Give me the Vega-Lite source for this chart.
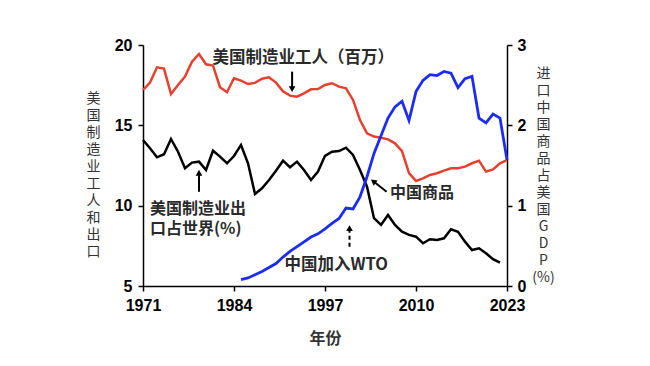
{
  "$schema": "https://vega.github.io/schema/vega-lite/v6.json",
  "width": 364,
  "height": 241,
  "autosize": "none",
  "padding": {"left": 143, "top": 45, "right": 143, "bottom": 80},
  "background": "white",
  "config": {
    "view": {"stroke": null},
    "axis": {
      "grid": false,
      "domainColor": "black",
      "tickColor": "black",
      "domainWidth": 1.5,
      "tickWidth": 1.5,
      "tickSize": 5,
      "labelFont": "Liberation Sans",
      "labelFontWeight": "bold",
      "labelFontSize": 16,
      "labelColor": "black",
      "titleFont": "Noto Sans CJK SC",
      "titleColor": "#333333"
    }
  },
  "datasets": {
    "workers": [
      {"year": 1971, "value": 17.2}, {"year": 1972, "value": 17.66}, {"year": 1973, "value": 18.61}, {"year": 1974, "value": 18.53},
      {"year": 1975, "value": 16.95}, {"year": 1976, "value": 17.51}, {"year": 1977, "value": 18.03}, {"year": 1978, "value": 18.96},
      {"year": 1979, "value": 19.44}, {"year": 1980, "value": 18.8}, {"year": 1981, "value": 18.72}, {"year": 1982, "value": 17.37},
      {"year": 1983, "value": 17.06}, {"year": 1984, "value": 17.93}, {"year": 1985, "value": 17.78}, {"year": 1986, "value": 17.57},
      {"year": 1987, "value": 17.64}, {"year": 1988, "value": 17.9}, {"year": 1989, "value": 17.99}, {"year": 1990, "value": 17.66},
      {"year": 1991, "value": 17.12}, {"year": 1992, "value": 16.85}, {"year": 1993, "value": 16.78}, {"year": 1994, "value": 16.99},
      {"year": 1995, "value": 17.24}, {"year": 1996, "value": 17.26}, {"year": 1997, "value": 17.51}, {"year": 1998, "value": 17.62},
      {"year": 1999, "value": 17.41}, {"year": 2000, "value": 17.3}, {"year": 2001, "value": 16.58}, {"year": 2002, "value": 15.33},
      {"year": 2003, "value": 14.5}, {"year": 2004, "value": 14.3}, {"year": 2005, "value": 14.23}, {"year": 2006, "value": 14.13},
      {"year": 2007, "value": 13.88}, {"year": 2008, "value": 13.4}, {"year": 2009, "value": 12.02}, {"year": 2010, "value": 11.54},
      {"year": 2011, "value": 11.7}, {"year": 2012, "value": 11.91}, {"year": 2013, "value": 12.02}, {"year": 2014, "value": 12.18},
      {"year": 2015, "value": 12.33}, {"year": 2016, "value": 12.33}, {"year": 2017, "value": 12.43}, {"year": 2018, "value": 12.64},
      {"year": 2019, "value": 12.8}, {"year": 2020, "value": 12.12}, {"year": 2021, "value": 12.26}, {"year": 2022, "value": 12.64},
      {"year": 2023, "value": 12.84}
    ],
    "exports": [
      {"year": 1971, "value": 14.09}, {"year": 1972, "value": 13.57}, {"year": 1973, "value": 13.01}, {"year": 1974, "value": 13.2},
      {"year": 1975, "value": 14.15}, {"year": 1976, "value": 13.36}, {"year": 1977, "value": 12.33}, {"year": 1978, "value": 12.68},
      {"year": 1979, "value": 12.74}, {"year": 1980, "value": 12.22}, {"year": 1981, "value": 13.42}, {"year": 1982, "value": 13.05},
      {"year": 1983, "value": 12.64}, {"year": 1984, "value": 13.09}, {"year": 1985, "value": 13.78}, {"year": 1986, "value": 12.64},
      {"year": 1987, "value": 10.73}, {"year": 1988, "value": 11.08}, {"year": 1989, "value": 11.6}, {"year": 1990, "value": 12.18},
      {"year": 1991, "value": 12.8}, {"year": 1992, "value": 12.39}, {"year": 1993, "value": 12.74}, {"year": 1994, "value": 12.22},
      {"year": 1995, "value": 11.6}, {"year": 1996, "value": 12.12}, {"year": 1997, "value": 13.1}, {"year": 1998, "value": 13.36},
      {"year": 1999, "value": 13.4}, {"year": 2000, "value": 13.61}, {"year": 2001, "value": 13.16}, {"year": 2002, "value": 12.22},
      {"year": 2003, "value": 11.18}, {"year": 2004, "value": 9.22}, {"year": 2005, "value": 8.8}, {"year": 2006, "value": 9.42},
      {"year": 2007, "value": 8.8}, {"year": 2008, "value": 8.38}, {"year": 2009, "value": 8.18}, {"year": 2010, "value": 8.07},
      {"year": 2011, "value": 7.66}, {"year": 2012, "value": 7.91}, {"year": 2013, "value": 7.87}, {"year": 2014, "value": 7.97},
      {"year": 2015, "value": 8.53}, {"year": 2016, "value": 8.38}, {"year": 2017, "value": 7.76}, {"year": 2018, "value": 7.24},
      {"year": 2019, "value": 7.35}, {"year": 2020, "value": 7.04}, {"year": 2021, "value": 6.67}, {"year": 2022, "value": 6.45}
    ],
    "imports": [
      {"year": 1985, "share": 0.08}, {"year": 1986, "share": 0.1}, {"year": 1987, "share": 0.14}, {"year": 1988, "share": 0.18},
      {"year": 1989, "share": 0.23}, {"year": 1990, "share": 0.28}, {"year": 1991, "share": 0.36}, {"year": 1992, "share": 0.43},
      {"year": 1993, "share": 0.49}, {"year": 1994, "share": 0.55}, {"year": 1995, "share": 0.61}, {"year": 1996, "share": 0.65},
      {"year": 1997, "share": 0.71}, {"year": 1998, "share": 0.78}, {"year": 1999, "share": 0.84}, {"year": 2000, "share": 0.97},
      {"year": 2001, "share": 0.96}, {"year": 2002, "share": 1.11}, {"year": 2003, "share": 1.36}, {"year": 2004, "share": 1.65},
      {"year": 2005, "share": 1.87}, {"year": 2006, "share": 2.09}, {"year": 2007, "share": 2.23}, {"year": 2008, "share": 2.3},
      {"year": 2009, "share": 2.06}, {"year": 2010, "share": 2.42}, {"year": 2011, "share": 2.56}, {"year": 2012, "share": 2.63},
      {"year": 2013, "share": 2.62}, {"year": 2014, "share": 2.67}, {"year": 2015, "share": 2.65}, {"year": 2016, "share": 2.47},
      {"year": 2017, "share": 2.58}, {"year": 2018, "share": 2.61}, {"year": 2019, "share": 2.09}, {"year": 2020, "share": 2.03},
      {"year": 2021, "share": 2.14}, {"year": 2022, "share": 2.09}, {"year": 2023, "share": 1.57}
    ],
    "labels": [
      {"id": "workers", "year": 1993.9, "value": 19.2, "text": "美国制造业工人（百万）"},
      {"id": "exports", "year": 1972.0, "value": 9.79, "text": "美国制造业出\n口占世界(%)"},
      {"id": "goods", "year": 2006.3, "value": 10.79, "text": "中国商品"},
      {"id": "wto", "year": 1998.6, "value": 6.31, "text": "中国加入WTO"}
    ],
    "arrows": [
      {"id": "workers", "year": 1992.3, "value": 18.34, "year2": 1992.3, "value2": 17.25},
      {"id": "exports", "year": 1979, "value": 10.87, "year2": 1979, "value2": 12.05},
      {"id": "goods", "year": 2005.8, "value": 10.87, "year2": 2003.9, "value2": 11.52},
      {"id": "wto", "year": 2000.5, "value": 7.45, "year2": 2000.5, "value2": 8.6}
    ]
  },
  "encoding": {
    "x": {
      "field": "year",
      "type": "quantitative",
      "scale": {"domain": [1971, 2023], "nice": false, "zero": false},
      "axis": {
        "values": [1971, 1984, 1997, 2010, 2023],
        "format": "d",
        "title": "年份",
        "titleFontSize": 16,
        "titleFontWeight": "bold",
        "titleY": 52,
        "titleBaseline": "middle",
        "labelPadding": 6,
        "labelFlush": false
      }
    }
  },
  "layer": [
    {
      "encoding": {
        "y": {
          "field": "value",
          "type": "quantitative",
          "scale": {"domain": [5, 20], "nice": false, "zero": false},
          "axis": {
            "orient": "left",
            "values": [5, 10, 15, 20],
            "labelPadding": 6,
            "title": ["美", "国", "制", "造", "业", "工", "人", "和", "出", "口"],
            "titleAngle": 0,
            "titleFontSize": 14,
            "titleFontWeight": "normal",
            "titleLineHeight": 17,
            "titleX": -50,
            "titleY": 53,
            "titleAlign": "center",
            "titleBaseline": "middle"
          }
        }
      },
      "layer": [
        {
          "data": {"name": "workers"},
          "mark": {"type": "line", "color": "#e8402e", "strokeWidth": 2.5}
        },
        {
          "data": {"name": "exports"},
          "mark": {"type": "line", "color": "black", "strokeWidth": 2.5}
        },
        {
          "data": {"name": "arrows"},
          "transform": [{"filter": "datum.id !== 'wto'"}],
          "mark": {"type": "rule", "color": "black", "strokeWidth": 2},
          "encoding": {"x2": {"field": "year2"}, "y2": {"field": "value2"}}
        },
        {
          "data": {"name": "arrows"},
          "transform": [{"filter": "datum.id === 'wto'"}],
          "mark": {"type": "rule", "color": "black", "strokeWidth": 2, "strokeDash": [4, 3]},
          "encoding": {"x2": {"field": "year2"}, "y2": {"field": "value2"}}
        },
        {
          "data": {"name": "arrows"},
          "transform": [{"filter": "datum.id === 'exports' || datum.id === 'wto'"}],
          "mark": {"type": "point", "shape": "triangle-up", "filled": true, "color": "black", "size": 45, "opacity": 1},
          "encoding": {"x": {"field": "year2", "type": "quantitative"}, "y": {"field": "value2", "type": "quantitative"}}
        },
        {
          "data": {"name": "arrows"},
          "transform": [{"filter": "datum.id === 'workers'"}],
          "mark": {"type": "point", "shape": "triangle-down", "filled": true, "color": "black", "size": 45, "opacity": 1},
          "encoding": {"x": {"field": "year2", "type": "quantitative"}, "y": {"field": "value2", "type": "quantitative"}}
        },
        {
          "data": {"name": "arrows"},
          "transform": [{"filter": "datum.id === 'goods'"}],
          "mark": {"type": "point", "shape": "triangle-up", "filled": true, "color": "black", "size": 45, "opacity": 1, "angle": 308},
          "encoding": {"x": {"field": "year2", "type": "quantitative"}, "y": {"field": "value2", "type": "quantitative"}}
        },
        {
          "data": {"name": "labels"},
          "transform": [{"filter": "datum.id === 'workers' || datum.id === 'wto'"}],
          "mark": {"type": "text", "font": "Noto Sans CJK SC", "fontWeight": "bold", "fontSize": 16.5, "color": "#2a2a2a", "align": "center", "baseline": "middle"},
          "encoding": {"text": {"field": "text"}}
        },
        {
          "data": {"name": "labels"},
          "transform": [{"filter": "datum.id === 'exports' || datum.id === 'goods'"}],
          "mark": {"type": "text", "font": "Noto Sans CJK SC", "fontWeight": "bold", "fontSize": 16, "color": "#2a2a2a", "align": "left", "baseline": "middle", "lineBreak": "\n", "lineHeight": 19.5},
          "encoding": {"text": {"field": "text"}}
        }
      ]
    },
    {
      "data": {"name": "imports"},
      "mark": {"type": "line", "color": "#1a2cf5", "strokeWidth": 2.8},
      "encoding": {
        "y": {
          "field": "share",
          "type": "quantitative",
          "scale": {"domain": [0, 3], "nice": false, "zero": true},
          "axis": {
            "orient": "right",
            "values": [0, 1, 2, 3],
            "labelPadding": 5,
            "title": ["进", "口", "中", "国", "商", "品", "占", "美", "国", "G", "D", "P", "(%)"],
            "titleAngle": 0,
            "titleFontSize": 14,
            "titleFontWeight": "normal",
            "titleLineHeight": 17,
            "titleX": 36,
            "titleY": 28,
            "titleAlign": "center",
            "titleBaseline": "middle"
          }
        }
      }
    }
  ],
  "resolve": {"scale": {"y": "independent"}}
}
